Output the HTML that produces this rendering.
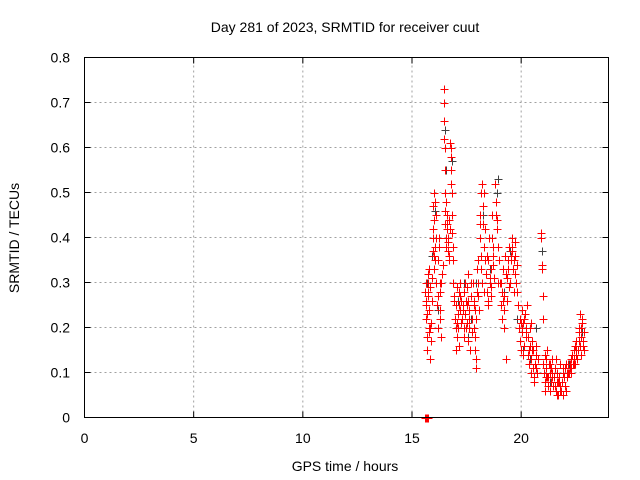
<!DOCTYPE html>
<html><head><meta charset="utf-8"><style>
body{margin:0;background:#fff}
svg{display:block;font-family:"Liberation Sans",sans-serif}
</style></head><body>
<svg id="chart" width="640" height="480">
<rect width="640" height="480" fill="#fff"/>
<text x="345" y="32" font-size="14" text-anchor="middle">Day 281 of 2023, SRMTID for receiver cuut</text>
<g id="grid"></g>
<g id="ticks"></g>
<g id="black"></g>
<g id="red"></g>
<rect x="84.5" y="57.5" width="524" height="360" fill="none" stroke="#000"/>
<text x="345" y="471" font-size="14" text-anchor="middle">GPS time / hours</text>
<text transform="translate(19,238) rotate(-90)" font-size="14" text-anchor="middle">SRMTID / TECUs</text>
</svg>
<script>
const xTicks=[0,5,10,15,20];
const yTicks=[0,0.1,0.2,0.3,0.4,0.5,0.6,0.7,0.8];
const yTickLabels=["0","0.1","0.2","0.3","0.4","0.5","0.6","0.7","0.8"];
const redTimes=[
15.6,15.62,15.64,15.66,15.68,15.7,15.72,15.74,15.76,15.78,15.8,15.82,15.84,15.86,15.88,15.9,15.92,15.7,15.75,15.8,
15.94,15.96,15.98,16.0,16.02,16.04,16.06,16.08,16.1,16.0,16.05,
16.12,16.15,16.18,16.2,16.22,16.25,16.28,16.3,16.33,16.36,16.2,16.3,16.4,
16.45,16.46,16.47,16.48,16.49,16.5,16.51,16.52,16.53,16.55,16.57,16.6,16.62,16.64,16.66,16.68,16.7,16.72,16.58,16.63,
16.75,16.77,16.78,16.8,16.82,16.84,16.86,16.88,16.8,16.85,
16.9,16.93,16.96,17.0,17.03,17.06,17.1,17.13,17.16,17.2,17.23,17.26,17.0,17.1,17.2,17.15,17.05,
17.3,17.33,17.36,17.4,17.43,17.46,17.5,17.53,17.56,17.6,17.63,17.66,17.7,17.73,17.76,17.4,17.5,17.6,17.45,17.55,
17.8,17.83,17.86,17.9,17.92,17.94,17.96,17.98,18.0,18.03,18.06,17.9,17.95,18.0,17.85,
18.1,18.13,18.16,18.2,18.23,18.26,18.3,18.33,18.36,18.3,18.2,18.15,
18.4,18.43,18.46,18.5,18.53,18.56,18.6,18.63,18.66,18.7,18.73,18.76,18.5,18.6,18.7,
18.8,18.83,18.86,18.9,18.93,18.96,19.0,18.9,
19.03,19.06,19.1,19.13,19.16,19.2,19.23,19.26,19.3,19.33,19.36,19.4,19.43,19.46,19.2,19.3,
19.5,19.53,19.56,19.6,19.63,19.66,19.7,19.73,19.76,19.8,19.83,19.86,19.6,19.7,
19.9,19.93,19.96,20.0,20.03,20.06,20.1,20.13,20.16,20.2,20.23,20.26,20.0,20.1,20.2,20.05,20.15,
20.3,20.33,20.36,20.4,20.43,20.46,20.5,20.53,20.56,20.6,20.63,20.66,20.7,20.73,20.76,20.4,20.5,20.6,20.7,20.45,
20.9,20.92,20.94,20.96,20.98,21.0,
21.02,21.05,21.08,21.1,21.13,21.16,21.2,21.23,21.26,21.3,21.33,21.36,21.4,21.43,21.46,21.2,21.3,21.4,21.1,21.25,21.35,
21.5,21.53,21.56,21.6,21.63,21.66,21.7,21.73,21.76,21.8,21.83,21.86,21.9,21.93,21.96,22.0,22.03,22.06,22.1,22.13,22.16,21.6,21.7,21.8,21.9,22.0,22.1,21.65,21.85,22.05,
22.2,22.23,22.26,22.3,22.33,22.36,22.4,22.43,22.46,22.5,22.53,22.56,22.3,22.4,22.5,
22.6,22.63,22.66,22.7,22.73,22.76,22.8,22.83,22.86,22.9,22.7,22.8,22.75,22.85,
15.61,15.63,15.65,15.67,15.69,15.71,15.73,
15.65,15.73,15.83,15.95,16.03,16.17,16.27,16.35,16.61,16.69,16.92,17.08,17.18,17.35,17.48,17.58,17.68,17.88,18.12,18.18,18.28,18.45,18.58,18.68,19.08,19.18,19.38,19.55,19.68,19.78,20.02,20.12,20.35,20.55,20.65,21.15,21.45,21.75,22.25,22.45,22.65,22.78];
const redValues=[
0.28,0.25,0.3,0.22,0.18,0.15,0.32,0.27,0.2,0.33,0.24,0.29,0.13,0.17,0.21,0.26,0.31,0.23,0.28,0.19,
0.37,0.42,0.47,0.5,0.44,0.38,0.35,0.4,0.45,0.33,0.48,
0.3,0.25,0.2,0.35,0.38,0.4,0.28,0.22,0.18,0.32,0.27,0.3,0.34,
0.73,0.7,0.66,0.62,0.6,0.55,0.5,0.46,0.43,0.4,0.38,0.42,0.45,0.37,0.4,0.44,0.36,0.42,0.48,0.39,
0.61,0.58,0.55,0.52,0.5,0.45,0.38,0.35,0.6,0.41,
0.3,0.27,0.22,0.25,0.2,0.18,0.23,0.28,0.25,0.3,0.21,0.26,0.15,0.2,0.24,0.16,0.29,
0.22,0.25,0.2,0.18,0.23,0.26,0.29,0.21,0.17,0.2,0.24,0.15,0.27,0.22,0.19,0.28,0.25,0.22,0.3,0.32,
0.3,0.25,0.2,0.15,0.11,0.13,0.28,0.33,0.35,0.27,0.24,0.18,0.22,0.3,0.26,
0.4,0.45,0.5,0.52,0.47,0.43,0.38,0.35,0.42,0.5,0.3,0.36,
0.32,0.28,0.25,0.35,0.4,0.3,0.27,0.33,0.45,0.38,0.36,0.31,0.26,0.29,0.34,
0.52,0.48,0.45,0.42,0.38,0.3,0.35,0.44,
0.3,0.25,0.28,0.22,0.33,0.2,0.27,0.36,0.13,0.31,0.26,0.35,0.29,0.38,0.24,0.32,
0.3,0.35,0.38,0.4,0.33,0.28,0.36,0.39,0.3,0.34,0.28,0.25,0.37,0.32,
0.2,0.17,0.22,0.15,0.19,0.24,0.21,0.16,0.23,0.18,0.2,0.25,0.21,0.14,0.19,0.24,0.22,
0.18,0.14,0.12,0.16,0.1,0.13,0.17,0.11,0.15,0.09,0.12,0.14,0.16,0.1,0.13,0.2,0.15,0.08,0.11,0.21,
0.41,0.4,0.34,0.33,0.27,0.22,
0.12,0.1,0.14,0.08,0.11,0.13,0.09,0.07,0.12,0.1,0.06,0.11,0.09,0.13,0.07,0.15,0.12,0.1,0.06,0.09,0.08,
0.09,0.07,0.11,0.06,0.08,0.1,0.05,0.09,0.07,0.12,0.06,0.08,0.1,0.05,0.09,0.07,0.11,0.06,0.09,0.12,0.1,0.13,0.08,0.06,0.11,0.07,0.1,0.05,0.08,0.12,
0.1,0.12,0.11,0.13,0.14,0.12,0.15,0.13,0.16,0.14,0.15,0.13,0.1,0.12,0.17,
0.15,0.17,0.19,0.16,0.2,0.18,0.21,0.17,0.15,0.19,0.23,0.22,0.14,0.16,
0.0,0.0,0.0,0.0,0.0,0.0,0.0,
0.26,0.3,0.2,0.4,0.36,0.27,0.24,0.3,0.43,0.35,0.26,0.21,0.27,0.24,0.2,0.26,0.3,0.24,0.43,0.33,0.28,0.36,0.31,0.4,0.3,0.26,0.33,0.36,0.35,0.3,0.2,0.16,0.15,0.11,0.12,0.09,0.07,0.08,0.11,0.12,0.2];
const blackTimes=[15.7,15.9,16.05,16.2,16.5,16.6,16.85,17.1,17.4,17.7,17.95,18.25,18.55,18.9,19.2,19.5,19.8,20.1,20.4,20.7,20.95,21.3,21.6,21.9,22.2,22.5,22.8,18.95,17.55,16.55];
const blackValues=[0.3,0.36,0.46,0.24,0.64,0.43,0.57,0.26,0.3,0.22,0.3,0.45,0.33,0.5,0.28,0.37,0.22,0.15,0.13,0.2,0.37,0.08,0.06,0.1,0.12,0.14,0.19,0.53,0.18,0.55];
const X0=84.5,X1=608.5,Y0=417.5,Y1=57.5;
const xs=t=>X0+t/24*(X1-X0);
const ys=v=>Y0-v/0.8*(Y0-Y1);
const NS="http://www.w3.org/2000/svg";
const grid=document.getElementById('grid'),ticks=document.getElementById('ticks');
function mk(tag,attrs,parent){const e=document.createElementNS(NS,tag);for(const k in attrs)e.setAttribute(k,attrs[k]);parent.appendChild(e);return e;}
xTicks.forEach(t=>{const x=xs(t);
 if(t>0){const g=mk('line',{x1:x,x2:x,y1:Y0,y2:Y1,stroke:'#a0a0a0','stroke-dasharray':'2,3'},grid);
 
 }
 mk('line',{x1:x,x2:x,y1:Y0,y2:Y0-6,stroke:'#000'},ticks);
 mk('line',{x1:x,x2:x,y1:Y1,y2:Y1+6,stroke:'#000'},ticks);
 const l=mk('text',{x:x,y:443,'font-size':14,'text-anchor':'middle'},ticks);l.textContent=t;
 
 
});
yTicks.forEach((v,i)=>{const y=ys(v);
 if(v>0&&v<0.8){const g=mk('line',{x1:X0,x2:X1,y1:y,y2:y,stroke:'#a0a0a0','stroke-dasharray':'2,3'},grid);
 
 }
 mk('line',{x1:X0,x2:X0+6,y1:y,y2:y,stroke:'#000'},ticks);
 mk('line',{x1:X1,x2:X1-6,y1:y,y2:y,stroke:'#000'},ticks);
 const l=mk('text',{x:70,y:y+5,'font-size':14,'text-anchor':'end'},ticks);l.textContent=yTickLabels[i];
 
 
});
function plus(g,t,v,c){const x=Math.round(xs(t))+0.5,y=Math.round(ys(v))+0.5;
 const p=mk('path',{d:`M${x-4} ${y}H${x+4}M${x} ${y-4}V${y+4}`,stroke:c,'stroke-width':1,fill:'none'},g);
 
 
}
const bg=document.getElementById('black'),rg=document.getElementById('red');
blackTimes.forEach((t,i)=>plus(bg,t,blackValues[i],'#404040'));
redTimes.forEach((t,i)=>plus(rg,t,redValues[i],'#ff0000'));
</script>
</body></html>
